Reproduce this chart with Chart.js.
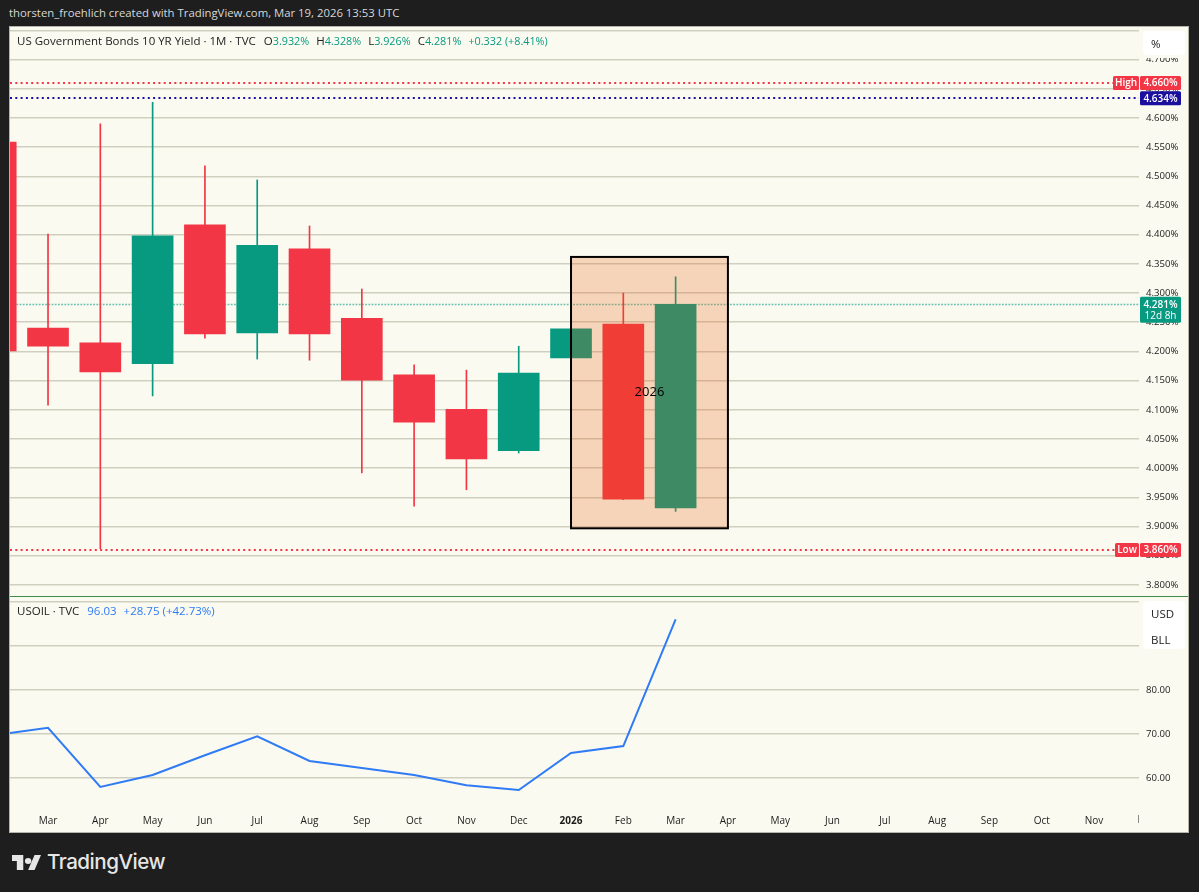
<!DOCTYPE html>
<html>
<head>
<meta charset="utf-8">
<title>US10Y vs USOIL</title>
<script src="https://cdn.jsdelivr.net/npm/chart.js@4"></script>
<style>
html,body{margin:0;padding:0;background:#1e1e1e;width:1199px;height:892px;overflow:hidden;font-family:"Open Sans",sans-serif}
#credit{position:absolute;left:9px;top:5px;color:#d8d8d8;font-size:11.35px;white-space:nowrap}
#frame{position:absolute;left:10px;top:27px;width:1178px;height:805px;background:#fafaf0;box-shadow:0 0 0 1px #b4b4a8}
#frame canvas{position:absolute;left:0}
#mainBox{position:absolute;left:0;top:0;width:1178px;height:569px}
#oilBox{position:absolute;left:0;top:570px;width:1178px;height:235px}
#sep{position:absolute;left:0;top:569px;width:1178px;height:1px;background:#3f8a4c}
.legend{position:absolute;left:7px;font-size:11.5px;color:#222;white-space:nowrap}
.legend span{margin-left:7px}
.legend span.first{margin-left:8px}
.num{font-size:10.8px}
.up{color:#089981}.blue{color:#2f7bf5}
.btn{position:absolute;left:1133px;width:34px;padding-left:8px;background:#fff;border-radius:4px;color:#222;font-size:11.5px;line-height:26px;box-shadow:0 3px 0 #fafaf0}
#logo{position:absolute;left:12px;top:855px}
#brand{position:absolute;left:47px;top:849px;color:#e6e6e6;font-size:20.6px;font-weight:500;font-family:Inter,sans-serif;letter-spacing:-.5px}
</style>
</head>
<body>
<div id="credit">thorsten_froehlich created with TradingView.com, Mar 19, 2026 13:53 UTC</div>
<div id="frame">
  <div id="mainBox"><canvas id="mainChart"></canvas></div>
  <div id="sep"></div>
  <div id="oilBox"><canvas id="oilChart"></canvas></div>
  <div class="legend" style="top:6px">US Government Bonds 10 YR Yield · 1M · TVC<span class="first">O<b class="up num" style="font-weight:400">3.932%</b></span><span>H<b class="up num" style="font-weight:400">4.328%</b></span><span>L<b class="up num" style="font-weight:400">3.926%</b></span><span>C<b class="up num" style="font-weight:400">4.281%</b></span><span class="up num">+0.332 (+8.41%)</span></div>
  <div class="legend" style="top:576px">USOIL · TVC<span class="blue" style="margin-left:8px">96.03</span><span class="blue">+28.75 (+42.73%)</span></div>
  <div class="btn" style="top:4px;height:24px">%</div>
  <div class="btn" style="top:574px;height:48px"><div>USD</div><div>BLL</div></div>
</div>
<svg id="logo" width="29" height="15" viewBox="0 0 36 20" preserveAspectRatio="none"><path fill="#e6e6e6" d="M14 20H6V8H0V0h14zM28 20h-8L28 0h8zM20 4a4 4 0 1 1 0 8 4 4 0 0 1 0-8z"/></svg>
<div id="brand">TradingView</div>
<script>
// monthly candles, index 0 = Mar 2025, index -1 (Feb) is cut by the left edge
var candleIdx = [-1, 0, 1, 2, 3, 4, 5, 6, 7, 8, 9, 10, 11, 12];
var opens  = [4.559, 4.240, 4.215, 4.179, 4.417, 4.232, 4.376, 4.257, 4.160, 4.101, 4.030, 4.189, 4.247, 3.932];
var highs  = [4.630, 4.401, 4.590, 4.627, 4.518, 4.494, 4.415, 4.307, 4.177, 4.168, 4.209, 4.240, 4.300, 4.328];
var lows   = [4.130, 4.108, 3.862, 4.124, 4.223, 4.187, 4.185, 3.992, 3.935, 3.963, 4.026, 4.188, 3.946, 3.926];
var closes = [4.201, 4.209, 4.165, 4.398, 4.230, 4.382, 4.230, 4.151, 4.079, 4.016, 4.163, 4.239, 3.947, 4.281];

var oilIdx = [-1, 0, 1, 2, 3, 4, 5, 6, 7, 8, 9, 10, 11, 12];
var oilValues = [69.8, 71.4, 58.0, 60.7, 65.2, 69.5, 63.9, 62.3, 60.7, 58.4, 57.3, 65.7, 67.28, 96.03];

var monthLabels = ['Mar','Apr','May','Jun','Jul','Aug','Sep','Oct','Nov','Dec','2026','Feb','Mar','Apr','May','Jun','Jul','Aug','Sep','Oct','Nov'];
var cutLabel = 'Dec';  // next month, only its first stroke shows at the edge
var yieldTicks = [3.80,3.85,3.90,3.95,4.00,4.05,4.10,4.15,4.20,4.25,4.30,4.35,4.40,4.45,4.50,4.55,4.60,4.65,4.70,4.75];
var oilTicks = [60,70,80,90,100];

var highLevel = 4.660, lowLevel = 3.860, prevLevel = 4.634, lastPrice = 4.281;
var boxFrom = 10, boxTo = 13, boxTop = 4.362, boxBottom = 3.897;

var UP = '#089981', DOWN = '#f23645', GRID = '#cfcfbf', TXT = '#1c1c1c';
var FONT = '"Open Sans", sans-serif';
Chart.defaults.animation = false;
Chart.defaults.font.family = FONT;

var xMin = -0.727, xMax = 20.86, axisW = 49;

function candleColor(i){ return closes[i] >= opens[i] ? UP : DOWN; }

function rightAxis(min, max, ticks, fmt){
	return {
		position: 'right', min: min, max: max,
		afterFit: function(s){ s.width = axisW; s.paddingTop = 0; s.paddingBottom = 0; },
		afterBuildTicks: function(s){ s.ticks = ticks.map(function(v){ return {value: v}; }); },
		grid: {color: GRID, lineWidth: 1.6, drawTicks: false},
		border: {display: false},
		ticks: {color: TXT, font: {size: 9.6}, padding: 7, callback: fmt, autoSkip: false, maxRotation: 0}
	};
}

function badge(ctx, x, y, w, txt, bg){
	ctx.fillStyle = bg;
	ctx.beginPath();
	ctx.roundRect(x, y - 7, w, 14, 1.5);
	ctx.fill();
	ctx.fillStyle = '#fff';
	ctx.font = '600 10px ' + FONT;
	ctx.textAlign = 'center';
	ctx.textBaseline = 'middle';
	ctx.fillText(txt, x + w / 2, y + 0.5);
}

// dotted level lines with their price tags, the box and its 2026 label
var overlayPlugin = {
	id: 'overlay',
	beforeDatasetsDraw: function(chart){
		var c = chart.ctx, a = chart.chartArea, ys = chart.scales.y;
		c.save();
		c.setLineDash([2, 3.3]);
		c.lineWidth = 2;
		[[highLevel, DOWN], [prevLevel, '#1b0f9e'], [lowLevel, DOWN]].forEach(function(l){
			var py = Math.round(ys.getPixelForValue(l[0]));
			c.strokeStyle = l[1];
			c.beginPath(); c.moveTo(a.left, py); c.lineTo(a.right, py); c.stroke();
		});
		var lp = Math.round(ys.getPixelForValue(lastPrice));
		c.setLineDash([1.8, 1.4]);
		c.lineWidth = 1.5;
		c.strokeStyle = 'rgba(8,153,129,0.6)';
		c.beginPath(); c.moveTo(a.left, lp + 0.5); c.lineTo(a.right, lp + 0.5); c.stroke();
		c.restore();
	},
	afterDatasetsDraw: function(chart){
		var c = chart.ctx, a = chart.chartArea, xs = chart.scales.x, ys = chart.scales.y;
		var x0 = xs.getPixelForValue(boxFrom), x1 = xs.getPixelForValue(boxTo);
		var y0 = ys.getPixelForValue(boxTop), y1 = ys.getPixelForValue(boxBottom);
		c.save();
		c.fillStyle = 'rgba(234,90,10,0.235)';
		c.fillRect(x0, y0, x1 - x0, y1 - y0);
		c.strokeStyle = '#000';
		c.lineWidth = 2;
		c.strokeRect(x0, y0, x1 - x0, y1 - y0);
		c.fillStyle = '#000';
		c.font = '13px ' + FONT;
		c.textAlign = 'center';
		c.textBaseline = 'middle';
		c.fillText('2026', (x0 + x1) / 2, (y0 + y1) / 2);
		var bx = a.right + 1;
		badge(c, bx, ys.getPixelForValue(highLevel), 41, highLevel.toFixed(3) + '%', DOWN);
		badge(c, bx - 27, ys.getPixelForValue(highLevel), 26, 'High', DOWN);
		badge(c, bx, ys.getPixelForValue(prevLevel), 41, prevLevel.toFixed(3) + '%', '#1b0f9e');
		badge(c, bx, ys.getPixelForValue(lowLevel), 41, lowLevel.toFixed(3) + '%', DOWN);
		badge(c, bx - 25, ys.getPixelForValue(lowLevel), 24, 'Low', DOWN);
		var py = ys.getPixelForValue(lastPrice);
		c.fillStyle = UP;
		c.beginPath();
		c.roundRect(bx, py - 7.5, 41, 26, 1.5);
		c.fill();
		c.fillStyle = '#fff';
		c.font = '600 10px ' + FONT;
		c.fillText(lastPrice.toFixed(3) + '%', bx + 20.5, py + 0.5);
		c.font = '10px ' + FONT;
		c.fillText('12d 8h', bx + 20.5, py + 12);
		c.restore();
	}
};

// month name running off the right end of the time axis
var cutLabelPlugin = {
	id: 'cutLabel',
	afterDraw: function(chart){
		var c = chart.ctx, a = chart.chartArea, xs = chart.scales.x;
		c.save();
		c.beginPath();
		c.rect(a.left, xs.top, a.right - a.left, xs.bottom - xs.top);
		c.clip();
		c.fillStyle = TXT;
		c.font = '10px ' + FONT;
		c.textAlign = 'center';
		c.textBaseline = 'middle';
		c.fillText(cutLabel, xs.getPixelForValue(monthLabels.length), 820 - 597);
		c.restore();
	}
};

new Chart(document.getElementById('mainChart'), {
	type: 'bar',
	data: {
		datasets: [
			{
				data: candleIdx.map(function(m, i){ return {x: m, y: [opens[i], closes[i]]}; }),
				backgroundColor: candleIdx.map(function(m, i){ return candleColor(i); }),
				barThickness: 41, grouped: false, order: 1
			},
			{
				data: candleIdx.map(function(m, i){ return {x: m, y: [lows[i], highs[i]]}; }),
				backgroundColor: candleIdx.map(function(m, i){ return candleColor(i); }),
				barThickness: 1, grouped: false, order: 2
			}
		]
	},
	options: {
		responsive: true, maintainAspectRatio: false,
		layout: {padding: 0},
		plugins: {legend: {display: false}, tooltip: {enabled: false}},
		scales: {
			x: {type: 'linear', display: false, min: xMin, max: xMax, offset: false},
			y: rightAxis(3.781, 4.756, yieldTicks, function(v){ return v < 4.75 ? v.toFixed(3) + '%' : ''; })
		}
	},
	plugins: [overlayPlugin]
});

new Chart(document.getElementById('oilChart'), {
	type: 'line',
	data: {
		datasets: [{
			data: oilIdx.map(function(m, i){ return {x: m, y: oilValues[i]}; }),
			borderColor: '#2f7bf5', borderWidth: 2, pointRadius: 0, tension: 0
		}]
	},
	options: {
		responsive: true, maintainAspectRatio: false,
		layout: {padding: 0},
		plugins: {legend: {display: false}, tooltip: {enabled: false}},
		scales: {
			x: {
				type: 'linear', min: xMin, max: xMax, position: 'bottom',
				afterFit: function(s){ s.height = 27; },
				afterBuildTicks: function(s){ s.ticks = monthLabels.map(function(l, i){ return {value: i}; }); },
				grid: {display: false},
				border: {display: false},
				ticks: {
					color: TXT, font: function(c){ return {size: 10, weight: monthLabels[c.index] === '2026' ? '700' : '400'}; },
					padding: 2, autoSkip: false, maxRotation: 0,
					callback: function(v){ return monthLabels[v]; }
				}
			},
			y: rightAxis(53.9, 101.1, oilTicks, function(v){ return v < 90 ? v.toFixed(2) : ''; })
		}
	},
	plugins: [cutLabelPlugin]
});
</script>
</body>
</html>
